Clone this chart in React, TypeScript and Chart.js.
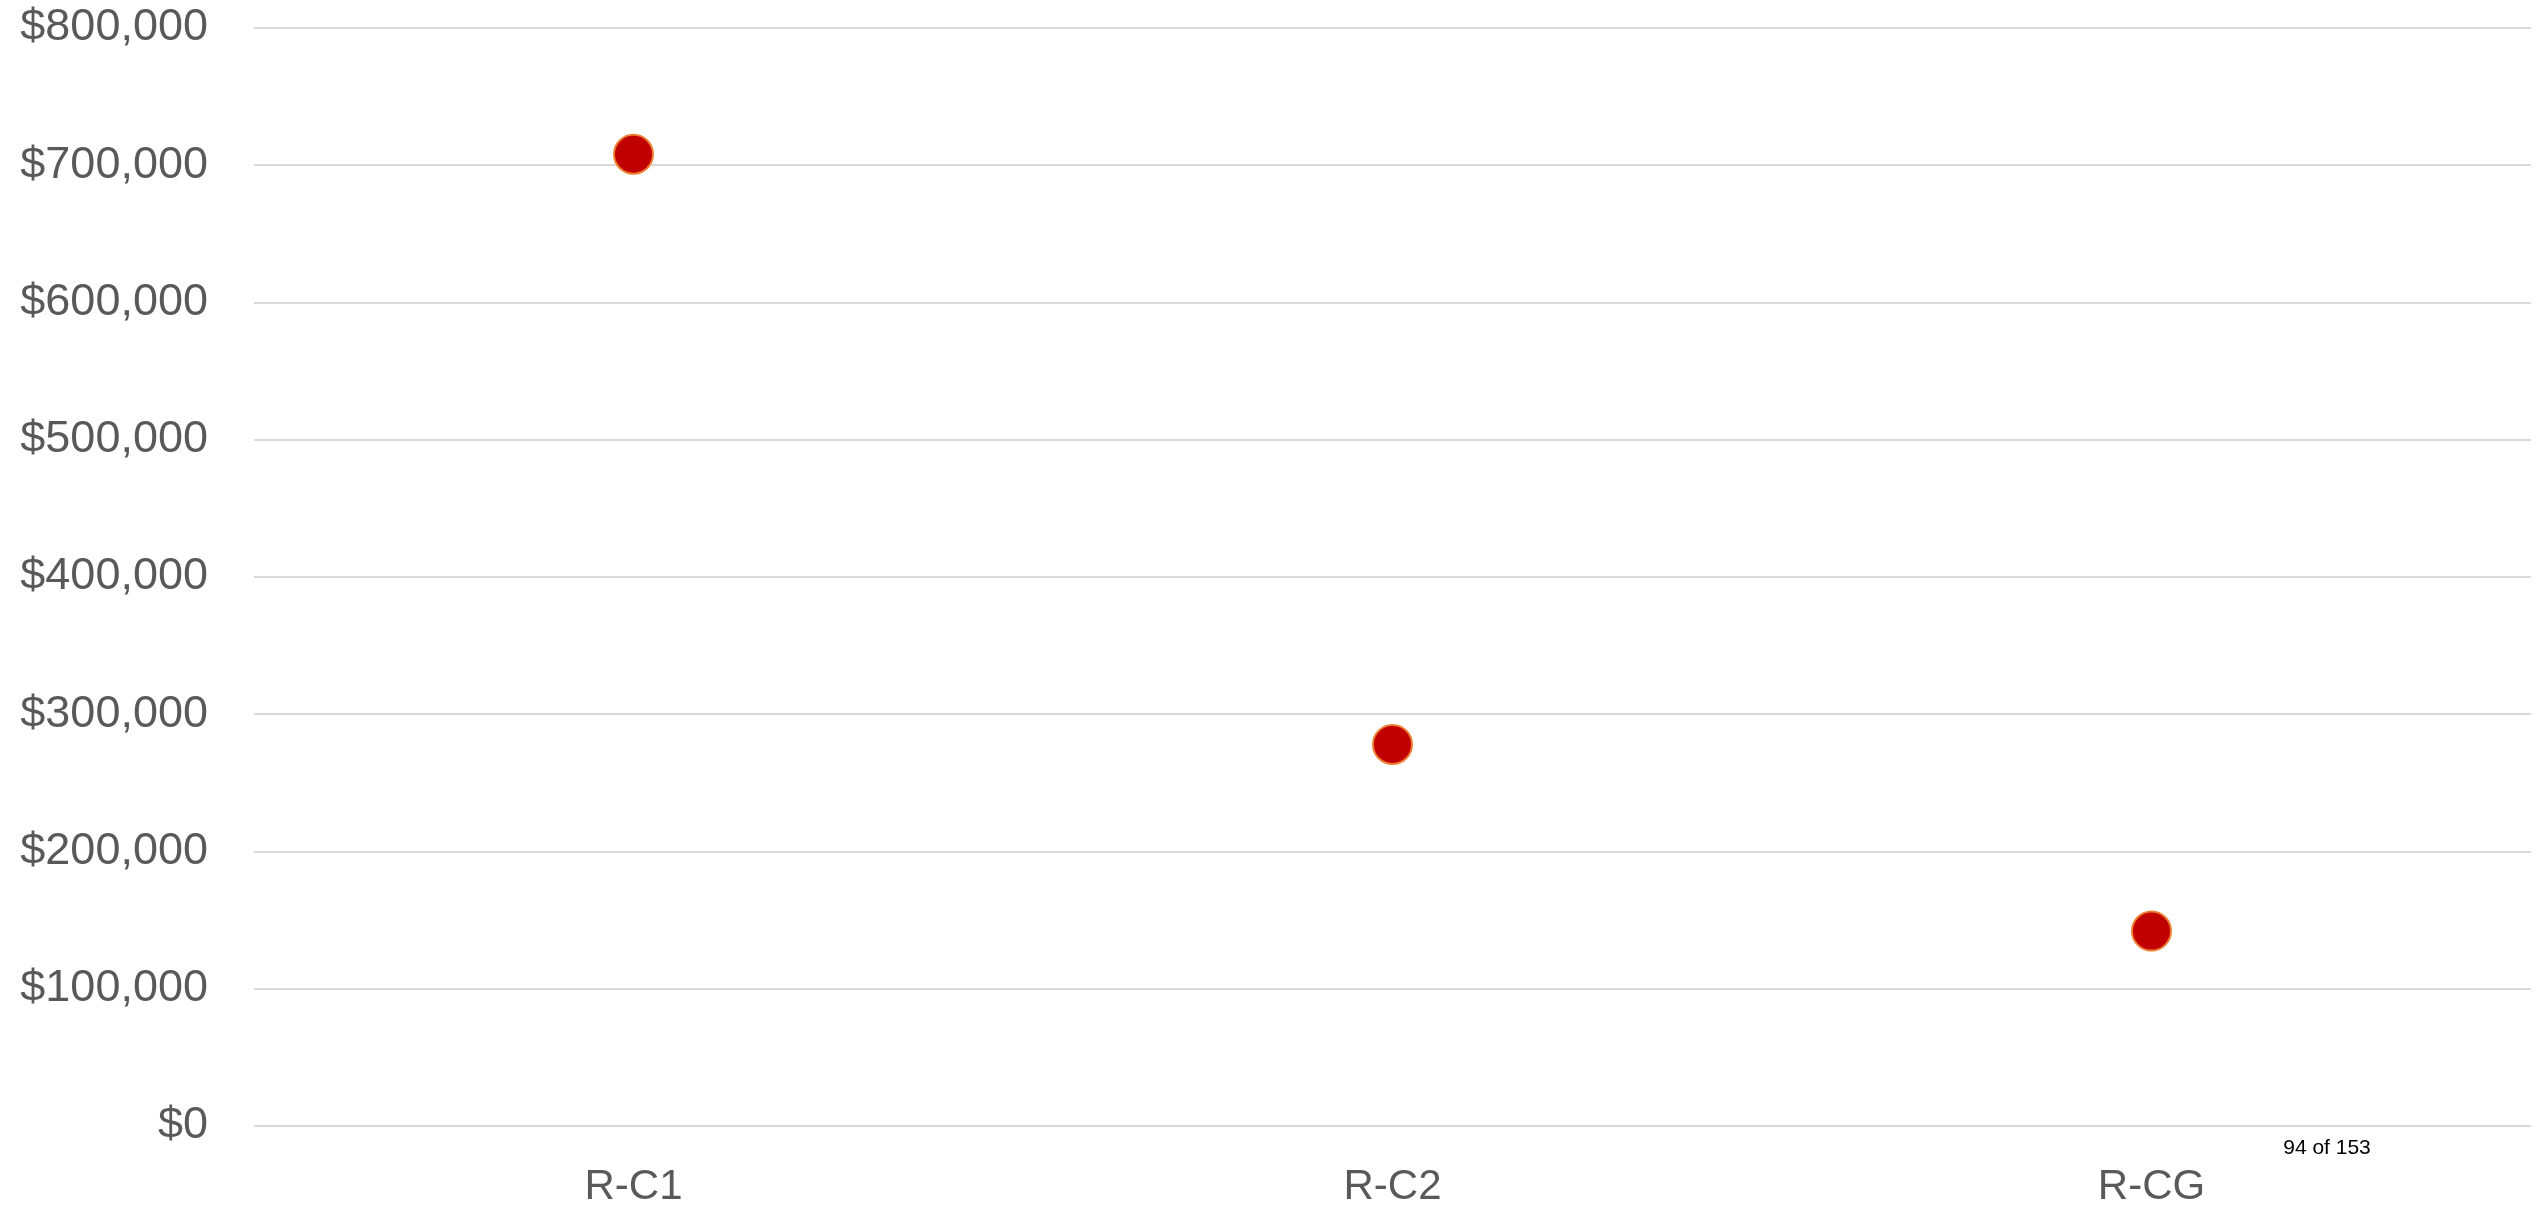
import React, { useEffect, useRef } from "react";
import { Chart, registerables } from "chart.js";

Chart.register(...registerables);

// Categories and values plotted as dots
const categories: string[] = ["R-C1", "R-C2", "R-CG"];
const values: number[] = [708000, 278000, 142000];

// Value axis range
const yMin = 0;
const yMax = 800000;
const yStep = 100000;

// Page footer text
const pageLabel = "94 of 153";

const formatDollars = (v: number) => "$" + Math.round(v).toLocaleString("en-US");

const pageLabelPlugin = {
  id: "pageLabel",
  afterDraw(chart: any) {
    const { ctx, chartArea } = chart;
    ctx.save();
    ctx.font = '21px "Liberation Sans", Arial, sans-serif';
    ctx.fillStyle = "#000000";
    ctx.textAlign = "center";
    ctx.textBaseline = "middle";
    ctx.fillText(pageLabel, chartArea.right - 204, chartArea.bottom + 22);
    ctx.restore();
  },
};

export default function App() {
  const canvasRef = useRef<HTMLCanvasElement | null>(null);

  useEffect(() => {
    document.body.style.margin = "0";
    document.documentElement.style.overflow = "hidden";
    document.body.style.overflow = "hidden";
    const canvas = canvasRef.current;
    if (!canvas) return;
    const chart = new Chart(canvas, {
      type: "line",
      data: {
        labels: categories,
        datasets: [
          {
            data: values,
            showLine: false,
            pointRadius: 19.5,
            pointHoverRadius: 19.5,
            pointBackgroundColor: "#C00000",
            pointBorderColor: "#ED7D31",
            pointBorderWidth: 2,
          },
        ],
      },
      options: {
        animation: false,
        responsive: true,
        maintainAspectRatio: false,
        layout: { autoPadding: false, padding: { top: 28, right: 8, bottom: 0, left: 0 } },
        plugins: {
          legend: { display: false },
          tooltip: { enabled: false },
        },
        scales: {
          x: {
            offset: true,
            grid: { display: false, drawTicks: false },
            border: { display: false },
            ticks: {
              padding: 36,
              color: "#595959",
              font: { family: '"Liberation Sans", Arial, sans-serif', size: 42 },
            },
            afterFit(scale: any) {
              scale.height = 83;
              scale.paddingLeft = 0;
              scale.paddingRight = 0;
            },
          },
          y: {
            min: yMin,
            max: yMax,
            grid: { color: "#D9D9D9", lineWidth: 2, drawTicks: false },
            border: { display: false },
            ticks: {
              stepSize: yStep,
              padding: 46,
              color: "#595959",
              font: { family: '"Liberation Sans", Arial, sans-serif', size: 45 },
              callback: (v: any) => formatDollars(Number(v)),
            },
            afterFit(scale: any) {
              scale.width = 254;
              scale.paddingTop = 0;
              scale.paddingBottom = 0;
            },
          },
        },
      },
      plugins: [pageLabelPlugin],
    });
    return () => chart.destroy();
  }, []);

  return (
    <div
      style={{
        position: "fixed",
        left: 0,
        top: 0,
        width: "2539px",
        height: "1209px",
        background: "#ffffff",
      }}
    >
      <canvas ref={canvasRef} />
    </div>
  );
}
